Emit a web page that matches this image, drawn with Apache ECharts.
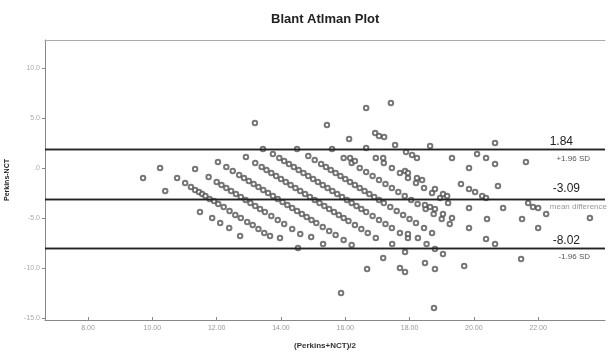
<!DOCTYPE html>
<html>
<head>
<meta charset="utf-8">
<script src="https://cdn.jsdelivr.net/npm/echarts@6/dist/echarts.min.js"></script>
<style>html,body{margin:0;padding:0;background:#fff;}#c{width:610px;height:352px;}</style>
</head>
<body>
<div id="c"></div>
<script>
// Limits of agreement
const upperLoA = 1.84;
const meanDiff = -3.09;
const lowerLoA = -8.02;

// Tick values
const xTicks = [8, 10, 12, 14, 16, 18, 20, 22];
const yTicks = [-15, -10, -5, 0, 5, 10];

// Points [ (Perkins+NCT)/2 , Perkins-NCT ], grouped by diagonal band
const band9 = [[9.71,-1.0],[10.40,-2.3],[11.48,-4.4],[11.86,-5.0],[12.11,-5.5],[12.39,-6.0],[12.73,-6.8]];
const band10 = [[10.24,0.0],[10.77,-1.0],[11.02,-1.5],[11.20,-1.9],[11.33,-2.2],[11.45,-2.4],[11.55,-2.6],[11.65,-2.8],[11.78,-3.1],[11.92,-3.3],[12.05,-3.6],[12.22,-3.9],[12.40,-4.3],[12.58,-4.7],[12.75,-5.0],[12.95,-5.4],[13.12,-5.7],[13.30,-6.1],[13.48,-6.5],[13.66,-6.8]];
const band11 = [[11.33,-0.1],[11.75,-0.9],[12.00,-1.4],[12.15,-1.7],[12.30,-2.0],[12.45,-2.3],[12.60,-2.6],[12.75,-2.9],[12.90,-3.2],[13.05,-3.5],[13.20,-3.8],[13.35,-4.1],[13.50,-4.4],[13.70,-4.8],[13.90,-5.2],[14.10,-5.6],[14.35,-6.1],[14.60,-6.6]];
const band12 = [[12.04,0.6],[12.30,0.1],[12.50,-0.3],[12.70,-0.7],[12.85,-1.0],[13.00,-1.3],[13.15,-1.6],[13.30,-1.9],[13.45,-2.2],[13.60,-2.5],[13.75,-2.8],[13.90,-3.1],[14.05,-3.4],[14.20,-3.7],[14.35,-4.0],[14.50,-4.3],[14.65,-4.6],[14.80,-4.9],[14.95,-5.2],[15.10,-5.5],[15.30,-5.9],[15.50,-6.3],[15.70,-6.7],[15.95,-7.2],[16.20,-7.7]];
const band13 = [[12.91,1.1],[13.20,0.5],[13.40,0.1],[13.55,-0.2],[13.70,-0.5],[13.85,-0.8],[14.00,-1.1],[14.15,-1.4],[14.30,-1.7],[14.45,-2.0],[14.60,-2.3],[14.75,-2.6],[14.90,-2.9],[15.05,-3.2],[15.20,-3.5],[15.35,-3.8],[15.50,-4.1],[15.65,-4.4],[15.80,-4.7],[15.95,-5.0],[16.10,-5.3],[16.30,-5.7],[16.50,-6.1],[16.70,-6.5],[16.95,-7.0]];
const band14 = [[13.44,1.9],[13.75,1.4],[13.95,1.0],[14.10,0.7],[14.25,0.4],[14.40,0.1],[14.55,-0.2],[14.70,-0.5],[14.85,-0.8],[15.00,-1.1],[15.15,-1.4],[15.30,-1.7],[15.45,-2.0],[15.60,-2.3],[15.75,-2.6],[15.90,-2.9],[16.05,-3.2],[16.20,-3.5],[16.35,-3.8],[16.50,-4.1],[16.65,-4.4],[16.85,-4.8],[17.05,-5.2],[17.25,-5.6],[17.45,-6.0],[17.70,-6.5],[17.95,-7.0]];
const band15 = [[14.50,1.9],[14.85,1.2],[15.05,0.8],[15.25,0.4],[15.40,0.1],[15.55,-0.2],[15.70,-0.5],[15.85,-0.8],[16.00,-1.1],[16.15,-1.4],[16.30,-1.7],[16.45,-2.0],[16.60,-2.3],[16.75,-2.6],[16.90,-2.9],[17.05,-3.2],[17.20,-3.5],[17.40,-3.9],[17.60,-4.3],[17.80,-4.7],[18.00,-5.1],[18.20,-5.5],[18.45,-6.0],[18.70,-6.5]];
const band16 = [[15.59,1.9],[15.95,1.0],[16.20,0.5],[16.45,0.0],[16.65,-0.4],[16.85,-0.8],[17.05,-1.2],[17.25,-1.6],[17.45,-2.0],[17.65,-2.4],[17.85,-2.8],[18.05,-3.2],[18.25,-3.6],[18.50,-4.1],[18.75,-4.6],[19.00,-5.1],[19.25,-5.6]];
const band17 = [[16.12,2.9],[16.65,2.0],[16.95,1.0],[17.20,0.5],[17.45,0.0],[17.70,-0.5],[17.95,-1.0],[18.20,-1.5],[18.45,-2.0],[18.70,-2.5],[18.95,-3.0],[19.20,-3.5]];
const scattered = [
  [13.19,4.5],[15.43,4.3],[16.65,6.0],[17.42,6.5],[16.93,3.5],[17.05,3.2],[17.21,3.1],[17.55,2.3],[18.64,2.2],[20.66,2.5],
  [17.89,1.6],[18.08,1.3],[18.23,1.0],[17.18,1.0],[16.15,1.0],[16.30,0.7],[19.32,1.0],[20.10,1.4],[20.38,1.0],[20.66,0.4],[19.85,0.0],[21.62,0.6],
  [17.86,-0.3],[17.95,-0.5],[18.23,-1.0],[18.39,-1.2],[18.79,-2.1],[19.04,-2.6],[19.17,-2.8],[19.60,-1.6],[19.85,-2.1],[20.04,-2.4],[20.26,-2.8],[20.38,-3.0],[20.75,-1.8],
  [18.48,-3.7],[18.64,-3.9],[18.79,-4.1],[19.04,-4.6],[19.32,-5.0],[19.85,-4.0],[20.91,-4.0],[20.41,-5.1],[21.50,-5.1],[19.85,-6.0],[22.00,-6.0],[20.38,-7.1],[20.66,-7.6],
  [21.69,-3.5],[21.84,-3.9],[22.00,-4.0],[22.25,-4.6],[23.61,-5.0],
  [18.53,-7.6],[18.79,-8.1],[19.04,-8.6],[18.48,-9.5],[18.79,-10.1],[19.70,-9.8],[21.47,-9.1],
  [16.68,-10.1],[17.18,-9.0],[17.70,-10.0],[17.86,-10.4],[15.87,-12.5],[18.76,-14.0],
  [17.46,-7.6],[17.86,-8.4],[17.95,-6.6],[18.26,-7.0],[15.31,-7.6],[14.94,-6.9],[13.97,-7.0],[14.53,-8.0]
];

const allPoints = [].concat(band9, band10, band11, band12, band13, band14, band15, band16, band17, scattered);

const chart = echarts.init(document.getElementById('c'), null, {renderer: 'canvas'});
const font = 'Liberation Sans, Arial, sans-serif';
const valLabel = {fontFamily: font, fontSize: 12, color: '#222'};
const sdLabel = {fontFamily: font, fontSize: 8, color: '#555'};

chart.setOption({
  animation: false,
  backgroundColor: '#fff',
  title: {
    text: 'Blant Atlman Plot',
    left: 266, top: 8,
    textStyle: {fontFamily: font, fontSize: 13, fontWeight: 'bold', color: '#222'}
  },
  grid: {left: 45, right: 5, top: 40, bottom: 32, outerBoundsMode: 'none', containLabel: false},
  xAxis: [{
    type: 'value', min: 6.66, max: 24.08,
    name: '(Perkins+NCT)/2', nameLocation: 'middle', nameGap: 22,
    nameTextStyle: {fontFamily: font, fontSize: 8, color: '#333', fontWeight: 'bold'},
    axisLine: {show: true, onZero: false, lineStyle: {color: '#888', width: 1}},
    axisTick: {show: true, length: 3, inside: true, customValues: xTicks, lineStyle: {color: '#888'}},
    axisLabel: {customValues: xTicks, fontFamily: font, fontSize: 7, color: '#999', margin: 5,
      formatter: v => v.toFixed(2)},
    splitLine: {show: false}
  }, {
    type: 'value', position: 'top', min: 6.66, max: 24.08,
    axisLine: {show: true, onZero: false, lineStyle: {color: '#aaa', width: 1}},
    axisTick: {show: false}, axisLabel: {show: false}, splitLine: {show: false}
  }],
  yAxis: {
    type: 'value', min: -15.2, max: 12.8,
    name: 'Perkins-NCT', nameLocation: 'middle', nameGap: 34, nameRotate: 90,
    nameTextStyle: {fontFamily: font, fontSize: 7, color: '#222', fontWeight: 'bold'},
    axisLine: {show: true, onZero: false, lineStyle: {color: '#888', width: 1}},
    axisTick: {show: true, length: 3, customValues: yTicks, lineStyle: {color: '#888'}},
    axisLabel: {customValues: yTicks, fontFamily: font, fontSize: 7, color: '#aaa', margin: 5,
      formatter: v => v === 0 ? '.0' : v.toFixed(1)},
    splitLine: {show: false}
  },
  series: [{
    type: 'scatter',
    xAxisIndex: 0,
    data: allPoints,
    symbol: 'emptyCircle',
    symbolSize: 4.5,
    itemStyle: {color: '#555', borderColor: '#555', borderWidth: 0.8},
    silent: true,
    markLine: {
      silent: true,
      symbol: 'none',
      lineStyle: {color: '#222', width: 1.4, type: 'solid'},
      data: [
        {yAxis: upperLoA, label: Object.assign({formatter: upperLoA.toFixed(2), position: 'insideEndTop', distance: [32, 2]}, valLabel)},
        {yAxis: upperLoA, label: Object.assign({formatter: '+1.96 SD', position: 'insideEndBottom', distance: [15, 5]}, sdLabel)},
        {yAxis: meanDiff, label: Object.assign({formatter: meanDiff.toFixed(2), position: 'insideEndTop', distance: [25, 4]}, valLabel)},
        {yAxis: meanDiff, label: Object.assign({formatter: 'mean difference', position: 'insideEndBottom', distance: [-2, 4]}, sdLabel, {color: '#999'})},
        {yAxis: lowerLoA, label: Object.assign({formatter: lowerLoA.toFixed(2), position: 'insideEndTop', distance: [25, 2]}, valLabel)},
        {yAxis: lowerLoA, label: Object.assign({formatter: '-1.96 SD', position: 'insideEndBottom', distance: [15, 5]}, sdLabel)}
      ]
    }
  }]
});
</script>
</body>
</html>
